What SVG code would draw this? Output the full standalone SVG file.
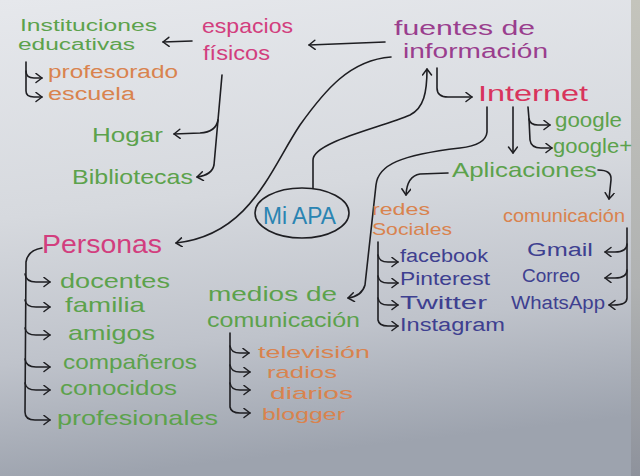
<svg xmlns="http://www.w3.org/2000/svg" width="640" height="476" viewBox="0 0 640 476">
<defs>
<linearGradient id="paper" x1="0" y1="0" x2="0.15" y2="1">
<stop offset="0" stop-color="#e6e8ec"/>
<stop offset="0.45" stop-color="#d6d9de"/>
<stop offset="0.75" stop-color="#bfc3cb"/>
<stop offset="1" stop-color="#9da3ae"/>
</linearGradient>
<linearGradient id="edge" x1="0" y1="0" x2="0" y2="1">
<stop offset="0" stop-color="#c4c4bc"/>
<stop offset="0.6" stop-color="#b0b2b2"/>
<stop offset="1" stop-color="#8e929c"/>
</linearGradient>
<marker id="ah" markerUnits="userSpaceOnUse" markerWidth="12" markerHeight="12" refX="7" refY="5" orient="auto">
<path d="M1,0.5 L7,5 L1,9.5" fill="none" stroke="#1e1e22" stroke-width="1.5" stroke-linecap="round" stroke-linejoin="round"/>
</marker>
</defs>
<style>
text{font-family:"Liberation Sans","DejaVu Sans",sans-serif;font-weight:400;}
.c{fill:none;stroke:#1e1e22;stroke-width:1.6;stroke-linecap:round;stroke-linejoin:round;}
.a{marker-end:url(#ah);}
.g{fill:#5ca24c;}
.m{fill:#d23e7e;}
.p{fill:#9a3e8e;}
.r{fill:#d8345c;}
.o{fill:#d9834e;}
.n{fill:#3e4090;}
.t{fill:#2a84b2;}
</style>
<rect x="0" y="0" width="640" height="476" fill="url(#paper)"/>
<rect x="631" y="0" width="9" height="476" fill="url(#edge)"/>

<g id="connectors">
<path class="c a" d="M192,41 L163,42"/>
<path class="c a" d="M385,42 L309,45"/>
<path class="c a" d="M391,57 C350,60 325,90 300,125 C270,170 250,235 176,243"/>
<path class="c a" d="M313,188 L313,160 C313,142 380,128 410,115 C424,108 427,92 427,69"/>
<path class="c a" d="M437,68 L437,88 Q437,97 448,97 L472,97"/>
<path class="c a" d="M487,107 L487,132 Q486,145 460,148 C400,155 378,165 376,185 L365,285 Q362,296 348,298"/>
<path class="c a" d="M513,107 L513,153"/>
<path class="c a" d="M528,107 L529,119 Q530,125 538,125 L550,125"/>
<path class="c a" d="M529,119 L530,140 Q531,148 541,148 L552,148"/>
<path class="c a" d="M448,173 L420,174 Q407,176 406,195"/>
<path class="c a" d="M598,170 Q612,170 611,180 L609,199"/>
<path class="c a" d="M222,75 L218,120 Q216,132 200,133 L174,134"/>
<path class="c a" d="M218,120 L214,165 Q212,175 197,177"/>
<path class="c a" d="M26,62 L26,71 Q26,78 34,78 L42,78"/>
<path class="c a" d="M26,71 L26,91 Q26,97 34,97 L42,97"/>
<path class="c a" d="M42,248 Q28,250 26,262 L25,412 Q25,420 35,420 L50,420"/>
<path class="c a" d="M25,274 Q26,282 36,282 L50,282"/>
<path class="c a" d="M25,300 Q26,307 36,307 L50,307"/>
<path class="c a" d="M25,328 Q26,335 36,335 L50,335"/>
<path class="c a" d="M25,359 Q26,367 36,367 L50,367"/>
<path class="c a" d="M25,383 Q26,390 36,390 L50,390"/>
<path class="c a" d="M378,242 L378,320 Q379,326 388,326 L398,326"/>
<path class="c a" d="M378,255 Q379,262 388,262 L398,262"/>
<path class="c a" d="M378,276 Q379,283 388,283 L398,283"/>
<path class="c a" d="M378,298 Q379,305 388,305 L398,305"/>
<path class="c a" d="M627,228 L627,298 Q627,305 614,305 L609,305"/>
<path class="c a" d="M627,244 Q627,252 615,252 L605,252"/>
<path class="c a" d="M627,270 Q627,278 615,278 L605,278"/>
<path class="c a" d="M230,333 L230,407 Q231,413 240,413 L250,413"/>
<path class="c a" d="M230,346 Q231,353 240,353 L249,353"/>
<path class="c a" d="M230,365 Q231,372 240,372 L250,372"/>
<path class="c a" d="M230,383 Q231,390 240,390 L250,390"/>
</g>

<g id="fuentes"><text class="p" x="394" y="35" font-size="20" textLength="141" lengthAdjust="spacingAndGlyphs">fuentes de</text><text class="p" x="403" y="58" font-size="20" textLength="145" lengthAdjust="spacingAndGlyphs">información</text></g>
<g id="espacios"><text class="m" x="202" y="33" font-size="21" textLength="91" lengthAdjust="spacingAndGlyphs">espacios</text><text class="m" x="203" y="60" font-size="21" textLength="67" lengthAdjust="spacingAndGlyphs">físicos</text></g>
<g id="instituciones"><text class="g" x="20" y="31" font-size="16" textLength="137" lengthAdjust="spacingAndGlyphs">Instituciones</text><text class="g" x="18" y="50" font-size="16" textLength="117" lengthAdjust="spacingAndGlyphs">educativas</text></g>
<g id="profesorado"><text class="o" x="48" y="78" font-size="18" textLength="130" lengthAdjust="spacingAndGlyphs">profesorado</text></g>
<g id="escuela"><text class="o" x="48" y="100" font-size="18" textLength="87" lengthAdjust="spacingAndGlyphs">escuela</text></g>
<g id="hogar"><text class="g" x="92" y="142" font-size="21" textLength="71" lengthAdjust="spacingAndGlyphs">Hogar</text></g>
<g id="bibliotecas"><text class="g" x="72" y="184" font-size="21" textLength="121" lengthAdjust="spacingAndGlyphs">Bibliotecas</text></g>
<g id="internet"><text class="r" x="478" y="101" font-size="22" textLength="110" lengthAdjust="spacingAndGlyphs">Internet</text></g>
<g id="google"><text class="g" x="555" y="127" font-size="20" textLength="67" lengthAdjust="spacingAndGlyphs">google</text></g>
<g id="googleplus"><text class="g" x="553" y="153" font-size="20" textLength="79" lengthAdjust="spacingAndGlyphs">google+</text></g>
<g id="aplicaciones"><text class="g" x="452" y="177" font-size="21" textLength="145" lengthAdjust="spacingAndGlyphs">Aplicaciones</text></g>
<g id="redes"><text class="o" x="372" y="215" font-size="17" textLength="58" lengthAdjust="spacingAndGlyphs">redes</text><text class="o" x="372" y="235" font-size="17" textLength="80" lengthAdjust="spacingAndGlyphs">Sociales</text></g>
<g id="comunicacion-apps"><text class="o" x="503" y="222" font-size="18" textLength="122" lengthAdjust="spacingAndGlyphs">comunicación</text></g>
<g id="facebook"><text class="n" x="400" y="262" font-size="18" textLength="88" lengthAdjust="spacingAndGlyphs">facebook</text></g>
<g id="pinterest"><text class="n" x="400" y="285" font-size="18" textLength="90" lengthAdjust="spacingAndGlyphs">Pinterest</text></g>
<g id="twitter"><text class="n" x="400" y="309" font-size="18" textLength="87" lengthAdjust="spacingAndGlyphs">Twitter</text></g>
<g id="instagram"><text class="n" x="400" y="331" font-size="18" textLength="105" lengthAdjust="spacingAndGlyphs">Instagram</text></g>
<g id="gmail"><text class="n" x="527" y="256" font-size="18" textLength="66" lengthAdjust="spacingAndGlyphs">Gmail</text></g>
<g id="correo"><text class="n" x="522" y="282" font-size="18" textLength="58" lengthAdjust="spacingAndGlyphs">Correo</text></g>
<g id="whatsapp"><text class="n" x="511" y="309" font-size="18" textLength="94" lengthAdjust="spacingAndGlyphs">WhatsApp</text></g>
<g id="miapa"><ellipse cx="302" cy="213" rx="47" ry="25" fill="none" stroke="#1e1e22" stroke-width="1.6"/><text class="t" x="263" y="224" font-size="23" textLength="73" lengthAdjust="spacingAndGlyphs">Mi APA</text></g>
<g id="personas"><text class="m" x="42" y="253" font-size="25" textLength="120" lengthAdjust="spacingAndGlyphs">Personas</text></g>
<g id="docentes"><text class="g" x="60" y="288" font-size="21" textLength="110" lengthAdjust="spacingAndGlyphs">docentes</text></g>
<g id="familia"><text class="g" x="65" y="312" font-size="21" textLength="80" lengthAdjust="spacingAndGlyphs">familia</text></g>
<g id="amigos"><text class="g" x="68" y="340" font-size="21" textLength="87" lengthAdjust="spacingAndGlyphs">amigos</text></g>
<g id="companeros"><text class="g" x="63" y="369" font-size="21" textLength="134" lengthAdjust="spacingAndGlyphs">compañeros</text></g>
<g id="conocidos"><text class="g" x="60" y="395" font-size="21" textLength="117" lengthAdjust="spacingAndGlyphs">conocidos</text></g>
<g id="profesionales"><text class="g" x="57" y="425" font-size="21" textLength="161" lengthAdjust="spacingAndGlyphs">profesionales</text></g>
<g id="medios"><text class="g" x="208" y="301" font-size="20" textLength="129" lengthAdjust="spacingAndGlyphs">medios de</text><text class="g" x="207" y="327" font-size="20" textLength="153" lengthAdjust="spacingAndGlyphs">comunicación</text></g>
<g id="television"><text class="o" x="258" y="358" font-size="17" textLength="112" lengthAdjust="spacingAndGlyphs">televisión</text></g>
<g id="radios"><text class="o" x="267" y="378" font-size="17" textLength="70" lengthAdjust="spacingAndGlyphs">radios</text></g>
<g id="diarios"><text class="o" x="270" y="399" font-size="17" textLength="83" lengthAdjust="spacingAndGlyphs">diarios</text></g>
<g id="blogger"><text class="o" x="262" y="420" font-size="17" textLength="83" lengthAdjust="spacingAndGlyphs">blogger</text></g>
</svg>
